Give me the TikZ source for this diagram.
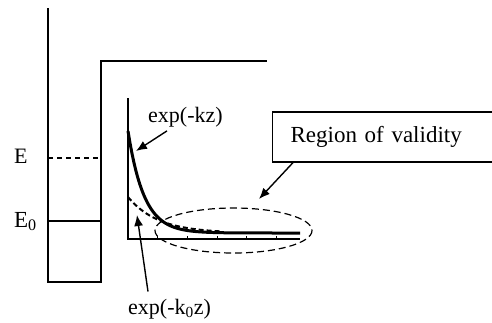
\documentclass[tikz,border=0pt]{standalone}
\usepackage{fontspec}
\setmainfont{Liberation Serif}
\usetikzlibrary{arrows.meta}

\begin{document}
\begin{tikzpicture}[x=1pt, y=-1pt,
lbl/.style={inner sep=0pt, font=\fontsize{22pt}{26pt}\selectfont},
well/.style={line width=1.6pt},
level/.style={line width=1.2pt},
axis/.style={line width=1.2pt},
decay/.style={line width=3pt},
note/.style={rectangle, draw, line width=1.2pt, text width=188pt,
inner xsep=18pt, minimum height=50pt, align=left,
font=\fontsize{23pt}{27pt}\selectfont},
arrow/.style={-{Latex[length=11pt,width=9pt]}, line width=1.4pt}]
\useasboundingbox (0,0) rectangle (492,322);
\draw[well] (48,8) -- (48,282) -- (101,282) -- (101,61) -- (267,61);
\draw[level, dash pattern=on 5pt off 4pt] (48,158) -- (101,158);
\draw[level] (48,221) -- (101,221);
\node[lbl, anchor=base west] (lblE) at (14,163) {E};
\node[lbl, anchor=base west, font=\fontsize{23pt}{27pt}\selectfont] (lblEzero) at (14,227) {E\textsubscript{0}};
\draw[axis] (128,98) -- (128,239) -- (300,239);
\foreach \t in {157,187,217,246,276}
  \draw[line width=1pt] (\t,239) -- (\t,236);
\draw[decay] plot[domain=128:300, samples=90] (\x, {233-102*exp(-(\x-128)/16)});
\draw[line width=2pt, dash pattern=on 5pt off 3pt]
  plot[domain=128:222, samples=50] (\x, {233-36*exp(-(\x-128)/30)});
\draw[level, dash pattern=on 7pt off 4pt] (233.5,230.5) ellipse (78.5 and 22.5);
\node[lbl, anchor=base west] (kz) at (148,122) {exp(-kz)};
\node[lbl, anchor=base west] (kzero) at (128,314) {exp(-k\textsubscript{0}z)};
\node[note, anchor=west] (valid) at (272,137) {Region of validity};
\coordinate (kztip) at (136,151);
\coordinate (kzerotip) at (137,215);
\coordinate (validtip) at (259,199);
\draw[arrow] ([xshift=19pt,yshift=-4pt]kz.south west) -- (kztip);
\draw[arrow] ([xshift=20pt,yshift=7pt]kzero.north west) -- (kzerotip);
\draw[arrow] ([xshift=21pt]valid.south west) -- (validtip);
\end{tikzpicture}
\end{document}
